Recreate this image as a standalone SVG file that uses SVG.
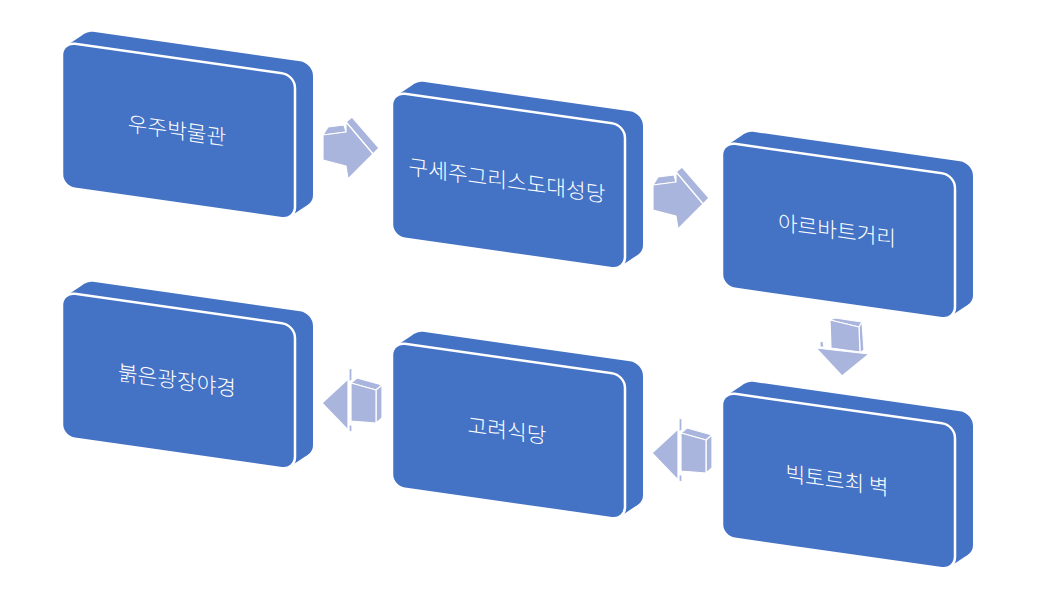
<svg xmlns="http://www.w3.org/2000/svg" xmlns:xlink="http://www.w3.org/1999/xlink" width="1041" height="612" viewBox="0 0 1041 612">
<style>
.slab{fill:#4472C4}
.face{fill:#4472C4;stroke:#fff;stroke-width:2.5}
.lbl{fill:#fff;font-family:"Noto Sans CJK KR","Noto Sans",sans-serif;font-size:21.4px;font-weight:300;text-anchor:middle}
.arw{fill:#A9B5DD;stroke:#fff;stroke-width:1.2;stroke-linejoin:round}
</style>
<defs>
<g id="box">
<rect class="slab" x="18" y="-14.55" width="233" height="145" rx="13"/>
<polygon class="slab" points="4.8,2.9 22.8,-11.7 246.2,127.6 228.2,142.1"/>
<rect class="face" x="0" y="0" width="233" height="145" rx="13"/>
</g>
<g id="arrowR">
<polygon class="arw" points="323,135 328,127 344,125 346,132"/>
<polygon class="arw" points="346,122 352,117 379,148 373,154"/>
<polygon class="arw" points="323,135 346,132 346,122 373,154 348,179 346,166 323,160"/>
</g>
<g id="arrowL">
<polygon class="arw" points="349,369 352,368 352,380 349,382"/>
<polygon class="arw" points="349,425 352,425 352,432 349,431"/>
<polygon class="arw" points="322,403 348,379 348,430"/>
<polygon class="arw" points="351,383 357,378 382,385 376,390"/>
<polygon class="arw" points="376,390 382,385 382,418 376,423"/>
<polygon class="arw" points="351,383 376,390 376,423 351,421"/>
</g>
</defs>
<g id="connectors">
<use href="#arrowR"/>
<use href="#arrowR" transform="translate(330,50)"/>
<g id="arrow-down">
<polygon class="arw" points="820,342 823,341 824,347 820,347"/>
<polygon class="arw" points="830,320 835,318 862,322 859,327"/>
<polygon class="arw" points="859,327 862,322 864,350 860,353"/>
<polygon class="arw" points="830,320 859,327 860,352 831,348"/>
<polygon class="arw" points="816,348 869,354 842,376"/>
</g>
<use href="#arrowL" transform="translate(330,50)"/>
<use href="#arrowL"/>
</g>
<g id="node1" transform="translate(62,42) skewY(8.06)"><use href="#box"/><text class="lbl" x="115" y="80">우주박물관</text></g>
<g id="node2" transform="translate(392,92) skewY(8.06)"><use href="#box"/><text class="lbl" x="115" y="80">구세주그리스도대성당</text></g>
<g id="node3" transform="translate(722,142) skewY(8.06)"><use href="#box"/><text class="lbl" x="115" y="80">아르바트거리</text></g>
<g id="node4" transform="translate(722,392) skewY(8.06)"><use href="#box"/><text class="lbl" x="115" y="80">빅토르최 벽</text></g>
<g id="node5" transform="translate(392,342) skewY(8.06)"><use href="#box"/><text class="lbl" x="115" y="80">고려식당</text></g>
<g id="node6" transform="translate(62,292) skewY(8.06)"><use href="#box"/><text class="lbl" x="115" y="80">붉은광장야경</text></g>
</svg>
